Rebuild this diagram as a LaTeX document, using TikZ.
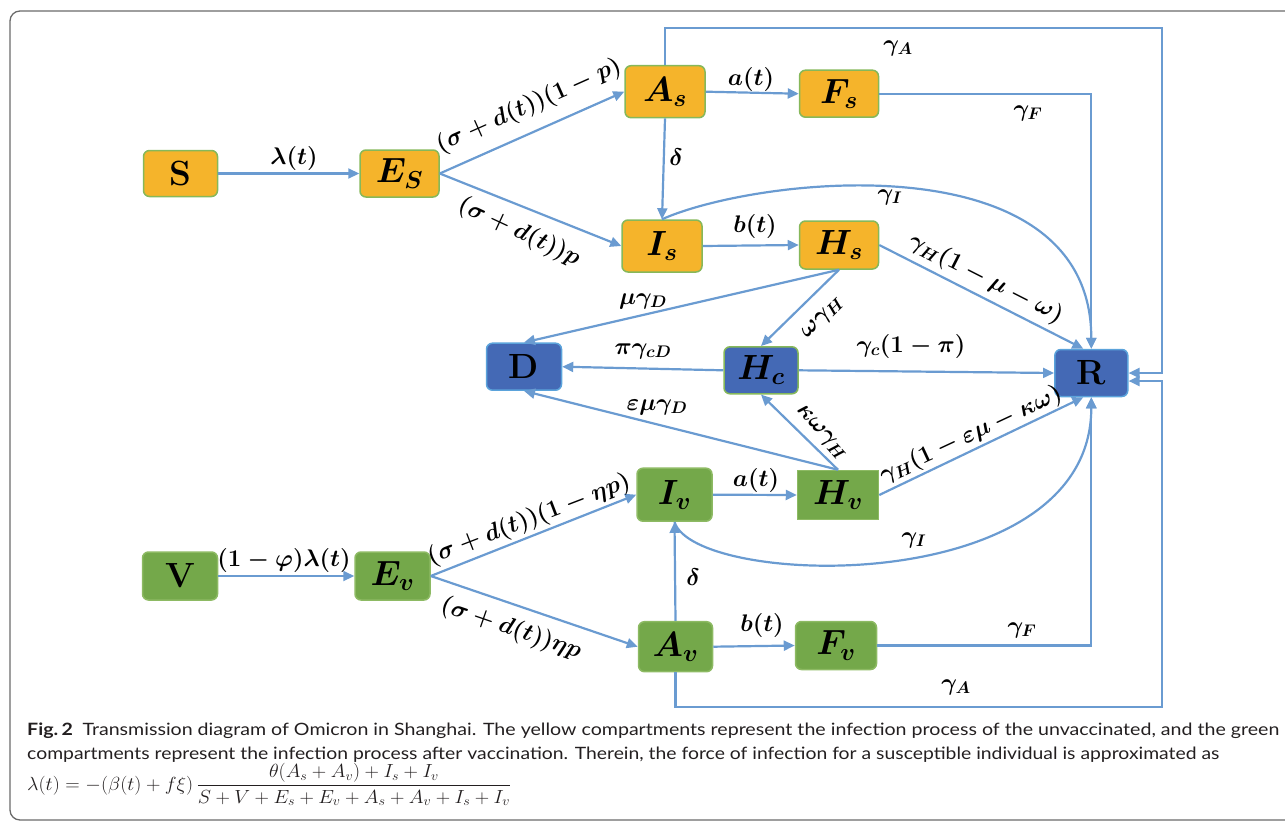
\RequirePackage{fix-cm}
\documentclass[tikz,border=0pt]{standalone}
\usepackage{fontspec}
\usepackage{amsmath}
\usepackage{graphicx}
\usetikzlibrary{arrows.meta,calc}
\newfontfamily\capfont{Lato}
\definecolor{arrowblue}{HTML}{6A9BD1}
\definecolor{yfill}{HTML}{F5B42B}
\definecolor{yborder}{HTML}{86B85A}
\definecolor{gfill}{HTML}{74A84A}
\definecolor{gborder}{HTML}{8DBA63}
\definecolor{bfill}{HTML}{4469B5}
\definecolor{bborder}{HTML}{5BA3DB}
\definecolor{framegray}{HTML}{6A6A6A}
\definecolor{captext}{HTML}{231F20}
\begin{document}
\begin{tikzpicture}[x=1pt,y=-1pt,
  box/.style={rounded corners=6pt, line width=1.5pt, inner sep=0pt,
    font=\fontsize{35}{39}\selectfont\boldmath},
  ybox/.style={box, fill=yfill, draw=yborder},
  gbox/.style={box, fill=gfill, draw=gborder},
  bbox/.style={box, fill=bfill, draw=bborder},
  arr/.style={draw=arrowblue, line width=2.2pt, -{Triangle[length=11pt,width=10pt]}},
  lab/.style={inner sep=0pt, font=\fontsize{24}{27}\selectfont\boldmath}]
\useasboundingbox (0,0) rectangle (1285,822);
\clip (0,0) rectangle (1285,822);
\draw[framegray, line width=1.3pt, rounded corners=10pt] (10,11) rectangle (1330,820);

% nodes
\node[ybox, minimum width=74pt, minimum height=46pt] (S) at (180.5,173.5) {\textbf{S}};
\node[ybox, minimum width=79pt, minimum height=47pt] (Es) at (399.5,173.5) {$E_S$};
\node[ybox, minimum width=80pt, minimum height=52pt] (As) at (665,91.7) {$A_s$};
\node[ybox, minimum width=79pt, minimum height=47pt] (Fs) at (839,93.7) {$F_s$};
\node[ybox, minimum width=80pt, minimum height=52pt] (Is) at (662,246) {$I_s$};
\node[ybox, minimum width=79pt, minimum height=48pt] (Hs) at (839,245) {$H_s$};
\node[bbox, minimum width=75pt, minimum height=47pt] (D) at (524,366.7) {\textbf{D}};
\node[bbox, draw=yborder, minimum width=74pt, minimum height=47pt] (Hc) at (761,370.3) {$H_c$};
\node[bbox, minimum width=73pt, minimum height=47pt] (R) at (1091.3,373) {\textbf{R}};
\node[gbox, minimum width=75pt, minimum height=53pt] (Iv) at (674.5,494.7) {$I_v$};
\node[gbox, rounded corners=0pt, minimum width=81pt, minimum height=49pt] (Hv) at (838,495) {$H_v$};
\node[gbox, minimum width=75pt, minimum height=48pt] (V) at (180,576) {\textbf{V}};
\node[gbox, minimum width=75pt, minimum height=48pt] (Ev) at (392.5,576) {$E_v$};
\node[gbox, minimum width=74pt, minimum height=50pt] (Av) at (675.5,646.7) {$A_v$};
\node[gbox, minimum width=81pt, minimum height=48pt] (Fv) at (836,645.5) {$F_v$};

\coordinate (tA) at (1162,28);
\coordinate (bA) at (1162,707);

% connectors
\draw[arr] (S) -- (Es);
\draw[arr] (Es.east) -- (As.west);
\draw[arr] (Es.east) -- (Is.west);
\draw[arr] (As.east) -- (Fs.west);
\draw[arr] (As.south) -- (Is.north);
\draw[arr] (Is.east) -- (Hs.west);
\draw[arr] (As.north) |- (tA) |- (R.east);
\draw[arr] (Fs.east) -| (R.north);
\draw[arr] (Is.north) .. controls +(97,-43) and +(0,-209) .. (R.north);
\draw[arr] (Hs.east) -- ($(R.north)+(-8,0)$);
\draw[arr] (Hs.south) -- (D.north);
\draw[arr] (Hs.south) -- (Hc.north);
\draw[arr] (Hc.west) -- (D.east);
\draw[arr] (Hc.east) -- (R.west);
\draw[arr] (Hv.north) -- (D.south);
\draw[arr] (Hv.north) -- (Hc.south);
\draw[arr] (Hv.east) -- ($(R.south)+(-8,0)$);
\draw[arr] (Iv.south) .. controls +(20,66) and +(0,203) .. (R.south);
\draw[arr] (Fv.east) -| (R.south);
\draw[arr] (Av.south) |- (bA) |- ($(R.east)+(0,8)$);
\draw[arr] (Av.north) -- (Iv.south);
\draw[arr] (Av.east) -- (Fv.west);
\draw[arr] (Iv.east) -- (Hv.west);
\draw[arr] (V) -- (Ev);
\draw[arr] (Ev.east) -- (Iv.west);
\draw[arr] (Ev.east) -- (Av.west);

% labels
\node[lab] (l1) at (294,158) {$\lambda(t)$};
\node[lab, rotate=24] (l2) at (529,106) {$(\sigma+d(t))(1-p)$};
\node[lab, rotate=-25] (l3) at (519,232) {$(\sigma+d(t))p$};
\node[lab] (l4) at (751,79) {$a(t)$};
\node[lab] (l5) at (676,157) {$\delta$};
\node[lab] (l6) at (755,226) {$b(t)$};
\node[lab] (l7) at (898,48) {$\gamma_A$};
\node[lab] (l8) at (1028,113) {$\gamma_F$};
\node[lab] (l9) at (890,197) {$\gamma_I$};
\node[lab, rotate=-27] (l10) at (986,279) {$\gamma_H(1-\mu-\omega)$};
\node[lab] (l11) at (643,301) {$\mu\gamma_D$};
\node[lab, rotate=45] (l12) at (823,318) {$\omega\gamma_H$};
\node[lab] (l13) at (643,351) {$\pi\gamma_{cD}$};
\node[lab] (l14) at (911,346) {$\gamma_c(1-\pi)$};
\node[lab] (l15) at (657,407) {$\varepsilon\mu\gamma_D$};
\node[lab, rotate=-48] (l16) at (821,433) {$\kappa\omega\gamma_H$};
\node[lab, rotate=25] (l17) at (971,435) {$\gamma_H(1-\varepsilon\mu-\kappa\omega)$};
\node[lab] (l18) at (756,480) {$a(t)$};
\node[lab] (l19) at (914,540) {$\gamma_I$};
\node[lab] (l20) at (693,577) {$\delta$};
\node[lab] (l21) at (284,560) {$(1-\varphi)\lambda(t)$};
\node[lab, rotate=21] (l22) at (529,520) {$(\sigma+d(t))(1-\eta p)$};
\node[lab, rotate=-19] (l23) at (511,629) {$(\sigma+d(t))\eta p$};
\node[lab] (l24) at (762,625) {$b(t)$};
\node[lab] (l25) at (1022,630) {$\gamma_F$};
\node[lab] (l26) at (956,687) {$\gamma_A$};

% caption
\node[anchor=base west, inner sep=0pt, text=captext] (cap1) at (27,735.7)
  {\resizebox{1252pt}{\height}{\capfont\fontsize{17}{20}\selectfont\textbf{Fig.\,2}\enspace Transmission diagram of Omicron in Shanghai. The yellow compartments represent the infection process of the unvaccinated, and the green}};
\node[anchor=base west, inner sep=0pt, text=captext] (cap2) at (27,759.3)
  {\resizebox{1192pt}{\height}{\capfont\fontsize{17}{20}\selectfont compartments represent the infection process after vaccination. Therein, the force of infection for a susceptible individual is approximated as}};
\node[anchor=base west, inner sep=0pt, text=captext] (cap3) at (27,790)
  {\resizebox{484pt}{\height}{\fontsize{19}{22}\selectfont $\lambda(t)=-(\beta(t)+f\xi)\,\dfrac{\theta(A_s+A_v)+I_s+I_v}{S+V+E_s+E_v+A_s+A_v+I_s+I_v}$}};
\end{tikzpicture}
\end{document}
